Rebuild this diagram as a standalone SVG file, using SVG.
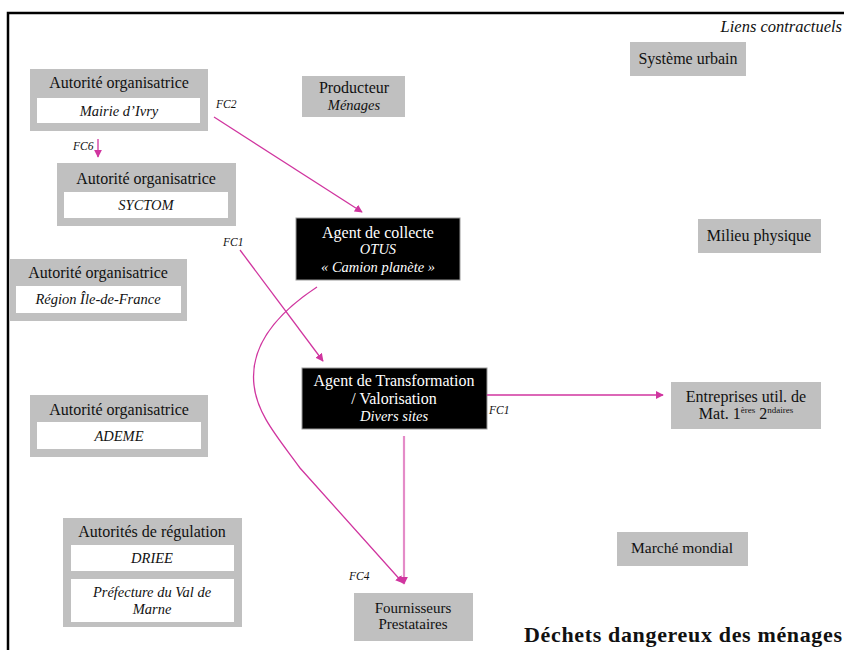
<svg xmlns="http://www.w3.org/2000/svg" width="844" height="650" viewBox="0 0 844 650">
<defs>
<style>
text{font-family:"Liberation Serif","Times New Roman",serif;font-size:16px;fill:#111;text-anchor:middle}
.i{font-style:italic;font-size:14.5px}
.w{fill:#fff}
.g{fill:#c0c0c0}
.wb{fill:#fff}
.blk{fill:#000;stroke:#999;stroke-width:1}
.fc{font-size:11.5px;font-style:italic;text-anchor:start}
.c{fill:none;stroke:#d0359f;stroke-width:1.3}
</style>
<marker id="ah" viewBox="0 0 10 10" refX="9" refY="5" markerWidth="8" markerHeight="8" markerUnits="userSpaceOnUse" orient="auto"><path d="M0,0 L10,5 L0,10 z" fill="#d0359f"/></marker>
</defs>
<rect width="844" height="650" fill="#fff"/>
<path d="M8,650 V13 H844" fill="none" stroke="#000" stroke-width="2.5"/>
<text class="i" x="842" y="32" style="text-anchor:end;font-size:16.5px">Liens contractuels</text>

<g id="mairie">
<rect class="g" x="30" y="69" width="178" height="62"/>
<rect class="wb" x="37" y="98" width="163" height="25"/>
<text x="119" y="88">Autorité organisatrice</text>
<text class="i" x="119" y="116">Mairie d’Ivry</text>
</g>
<g id="syctom">
<rect class="g" x="57" y="163" width="179" height="63"/>
<rect class="wb" x="64" y="192" width="164" height="26"/>
<text x="146" y="184">Autorité organisatrice</text>
<text class="i" x="146" y="210">SYCTOM</text>
</g>
<g id="region">
<rect class="g" x="9" y="259" width="178" height="62"/>
<rect class="wb" x="16" y="286" width="165" height="27"/>
<text x="98" y="278">Autorité organisatrice</text>
<text class="i" x="98" y="304">Région Île-de-France</text>
</g>
<g id="ademe">
<rect class="g" x="30" y="395" width="178" height="62"/>
<rect class="wb" x="37" y="422" width="164" height="27"/>
<text x="119" y="415">Autorité organisatrice</text>
<text class="i" x="119" y="441">ADEME</text>
</g>
<g id="regulation">
<rect class="g" x="63" y="518" width="179" height="109"/>
<rect class="wb" x="71" y="545" width="163" height="26"/>
<rect class="wb" x="71" y="579" width="163" height="43"/>
<text x="152" y="537">Autorités de régulation</text>
<text class="i" x="152" y="563">DRIEE</text>
<text class="i" x="152" y="597">Préfecture du Val de</text>
<text class="i" x="152" y="614">Marne</text>
</g>
<g id="producteur">
<rect class="g" x="302" y="76" width="103" height="41"/>
<text x="354" y="93">Producteur</text>
<text class="i" x="354" y="110">Ménages</text>
</g>
<g id="collecte">
<rect class="blk" x="296" y="218" width="164" height="62"/>
<text class="w" x="378" y="238">Agent de collecte</text>
<text class="w i" x="378" y="254">OTUS</text>
<text class="w i" x="378" y="272">«  Camion planète »</text>
</g>
<g id="transformation">
<rect class="blk" x="302" y="368" width="185" height="61"/>
<text class="w" x="394" y="386">Agent de Transformation</text>
<text class="w" x="394" y="404">/ Valorisation</text>
<text class="w i" x="394" y="421">Divers sites</text>
</g>
<g id="systeme">
<rect class="g" x="630" y="42" width="116" height="34"/>
<text x="688" y="64">Système urbain</text>
</g>
<g id="milieu">
<rect class="g" x="698" y="219" width="123" height="34"/>
<text x="759" y="241">Milieu physique</text>
</g>
<g id="entreprises">
<rect class="g" x="671" y="382" width="150" height="47"/>
<text x="746" y="402">Entreprises util. de</text>
<text x="746" y="419">Mat. 1<tspan font-size="9" dy="-6">ères</tspan><tspan dy="6"> 2</tspan><tspan font-size="9" dy="-6">ndaires</tspan></text>
</g>
<g id="marche">
<rect class="g" x="617" y="532" width="131" height="34"/>
<text x="682" y="553" style="font-size:15.5px">Marché mondial</text>
</g>
<g id="fournisseurs">
<rect class="g" x="354" y="593" width="119" height="48"/>
<text x="413" y="613" style="font-size:15px">Fournisseurs</text>
<text x="413" y="629" style="font-size:15px">Prestataires</text>
</g>

<g id="connectors">
<line class="c" x1="98" y1="139" x2="98" y2="157" marker-end="url(#ah)"/>
<line class="c" x1="214" y1="117" x2="362" y2="212" marker-end="url(#ah)"/>
<line class="c" x1="240" y1="250" x2="323" y2="361" marker-end="url(#ah)"/>
<line class="c" x1="487" y1="395" x2="663" y2="395" marker-end="url(#ah)"/>
<line x1="404" y1="436" x2="404" y2="584" stroke="#e48cc8" stroke-width="2.2" marker-end="url(#ah)"/>
<path class="c" d="M317,287 C270,318 250,350 254,385 C257,415 280,440 300,468 L403,583" marker-end="url(#ah)"/>
<text class="fc" x="216" y="108">FC2</text>
<text class="fc" x="73" y="150">FC6</text>
<text class="fc" x="223" y="246">FC1</text>
<text class="fc" x="489" y="414">FC1</text>
<text class="fc" x="349" y="580">FC4</text>
</g>

<text x="842" y="642" textLength="318" lengthAdjust="spacing" style="text-anchor:end;font-weight:bold;font-size:22px">Déchets dangereux des ménages</text>
</svg>
